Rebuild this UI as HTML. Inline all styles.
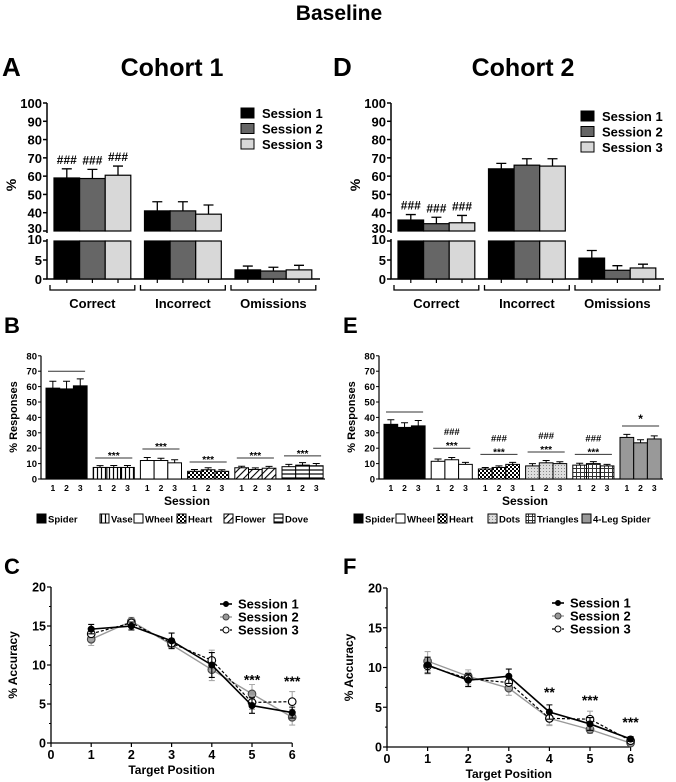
<!DOCTYPE html>
<html><head><meta charset="utf-8"><style>
html,body{margin:0;padding:0;background:#fff;}
svg{display:block;font-family:"Liberation Sans",Arial,sans-serif;}
text{font-weight:bold;fill:#000;}
</style></head><body>
<svg id="fig" width="676" height="782" viewBox="0 0 676 782" xmlns="http://www.w3.org/2000/svg">
<defs>
<pattern id="pVase" width="4" height="4" patternUnits="userSpaceOnUse"><rect width="4" height="4" fill="#fff"/><line x1="1.5" y1="0" x2="1.5" y2="4" stroke="#000" stroke-width="1.2"/></pattern>
<pattern id="pHeart" width="4" height="4" patternUnits="userSpaceOnUse"><rect width="4" height="4" fill="#fff"/><rect width="2" height="2" fill="#000"/><rect x="2" y="2" width="2" height="2" fill="#000"/></pattern>
<pattern id="pFlower" width="5" height="5" patternUnits="userSpaceOnUse" patternTransform="rotate(45)"><rect width="5" height="5" fill="#fff"/><line x1="0" y1="0" x2="0" y2="5" stroke="#000" stroke-width="2.2"/></pattern>
<pattern id="pDove" width="4" height="4" patternUnits="userSpaceOnUse"><rect width="4" height="4" fill="#fff"/><line x1="0" y1="2" x2="4" y2="2" stroke="#000" stroke-width="1.2"/></pattern>
<pattern id="pDots" width="3" height="3" patternUnits="userSpaceOnUse"><rect width="3" height="3" fill="#ddd"/><rect width="1" height="1" fill="#888"/></pattern>
<pattern id="pTri" width="4" height="4" patternUnits="userSpaceOnUse"><rect width="4" height="4" fill="#fff"/><line x1="0" y1="0.5" x2="4" y2="0.5" stroke="#333" stroke-width="1"/><line x1="0.5" y1="0" x2="0.5" y2="4" stroke="#333" stroke-width="1"/></pattern>
</defs>
</svg>
<script>
// ---------- Data ----------
const sessions = ['Session 1','Session 2','Session 3'];
const outcomeCats = ['Correct','Incorrect','Omissions'];
const aValues = [[59,58.7,60.5],[41,41,39.2],[2.4,2.1,2.4]];
const aErrors = [[5,5,5],[5,5,5],[1,1,1.2]];
const dValues = [[36,34,34.5],[64,66,65.5],[5.5,2.3,2.9]];
const dErrors = [[3,3.5,4],[3,3.5,4],[2,1.2,1]];
const axisTicksUpper = [30,40,50,60,70,80,90,100];
const axisTicksLower = [0,5,10];

const bStimuli = ['Spider','Vase','Wheel','Heart','Flower','Dove'];
const bValues = [[59,58.5,60.5],[7.5,7.5,7.5],[12,12,10.5],[5,6,5],[7.3,6.2,7],[8,9,8.6]];
const bErrors = [[4.5,5,4.5],[1.2,1.3,1.3],[2,1.5,2],[1.2,1.3,1],[1,1,1.2],[1.5,1.6,1.5]];
const bSigLine = [70,13.6,19.5,11,13.6,15];
const bSigLabel = ['','***','***','***','***','***'];
const eStimuli = ['Spider','Wheel','Heart','Dots','Triangles','4-Leg Spider'];
const eValues = [[35.5,33.5,34.5],[11.5,12.5,9.5],[6.5,7.5,9.5],[8.5,10.5,10],[9,10,8.5],[27,23.5,26]];
const eErrors = [[3,3,3.5],[1.5,1.5,1.3],[1,1,1.3],[1.5,1.5,1.2],[1.2,1.3,1],[2,2,2]];
const eSigLine = [43.5,20,16,17.5,16,34.4];
const eSigLabel = ['','***','***','***','***','*'];
const eHashLabel = ['','###','###','###','###',''];
const respTicks = [0,10,20,30,40,50,60,70,80];

const positions = [1,2,3,4,5,6];
const cS1 = [14.6,15.0,13.1,10.0,4.8,3.9];
const cS2 = [13.3,15.6,12.6,9.4,6.3,3.3];
const cS3 = [14.0,15.4,12.8,10.6,5.2,5.3];
const cE1 = [0.6,0.5,1.0,1.6,1.0,0.7];
const cE2 = [0.8,0.5,0.5,1.4,1.2,1.0];
const cE3 = [0.8,0.5,0.6,1.3,0.9,1.3];
const cStars = [['',0],['',0],['',0],['',0],['***',8],['***',7.8]];
const fS1 = [10.3,8.4,8.9,4.4,2.9,1.0];
const fS2 = [10.8,8.9,7.4,3.6,2.2,0.5];
const fS3 = [10.2,8.6,8.1,3.6,3.5,0.8];
const fE1 = [1.0,0.8,0.9,0.9,0.8,0.3];
const fE2 = [1.2,0.8,0.9,0.9,0.5,0.2];
const fE3 = [1.0,0.8,0.7,0.8,1.0,0.3];
const fStars = [['',0],['',0],['',0],['**',6.8],['***',5.8],['***',3]];
const accTicks = [0,5,10,15,20];
const posTicks = [0,1,2,3,4,5,6];

// ---------- helpers ----------
const NS='http://www.w3.org/2000/svg';
const svg=document.getElementById('fig');
function mk(tag,attrs,parent){const e=document.createElementNS(NS,tag);for(const k in attrs)e.setAttribute(k,attrs[k]);(parent||svg).appendChild(e);return e;}
function tx(str,x,y,size,anchor,parent){const e=mk('text',{x:x,y:y,'font-size':size,'text-anchor':anchor||'middle'},parent);e.textContent=str;return e;}

let t;
t=tx('Baseline',339,20,21);



const sessFill=['#000','#666','#d8d8d8'];

// ---------- Panels A / D ----------
function drawOutcome(cfg){
  const g=mk('g',{});
  
  
  const ax=cfg.ax;
  function y(v){return v>=30?231-(v-30)*128/70:279-v*3.8;}
  let e=tx(cfg.letter,cfg.letterX,76,26,'start',g);
  
  
  e=tx(cfg.title,cfg.titleX,76,25,'middle',g);
  
  
  e=mk('path',{d:`M${ax},103V233M${ax},239V279H${ax+273}`,stroke:'#000','stroke-width':1.5,fill:'none'},g);
  
  
  axisTicksUpper.forEach(v=>{
    const l=mk('line',{x1:ax-4,x2:ax,y1:y(v),y2:y(v),stroke:'#000','stroke-width':1.5},g);
    
    
    const tt=tx(String(v),ax-5,y(v)+(v===30?2:5),13,'end',g);
    
    
  });
  axisTicksLower.forEach(v=>{
    const l=mk('line',{x1:ax-4,x2:ax,y1:y(v),y2:y(v),stroke:'#000','stroke-width':1.5},g);
    
    
    const tt=tx(String(v),ax-5,y(v)+(v===10?3:5),13,'end',g);
    
    
  });
  e=tx('%',cfg.ax-31,185,14,'middle',g);
  e.setAttribute('transform',`rotate(-90 ${cfg.ax-31} 185)`);
  
  
  const bw=25.6;
  cfg.values.forEach((grp,gi)=>{
    const gx=ax+7+gi*90.5;
    grp.forEach((v,si)=>{
      const x=gx+si*bw, cx=x+bw/2;
      const top=y(v), errTop=y(v+cfg.errors[gi][si]);
      const lower=mk('rect',{x:x,y:v>10?241:top,width:bw,height:v>10?38:279-top,fill:sessFill[si],stroke:'#000','stroke-width':1.2},g);
      
      
      if(v>10){
        const up=mk('rect',{x:x,y:top,width:bw,height:231-top,fill:sessFill[si],stroke:'#000','stroke-width':1.2},g);
        
        
      }
      const eb=mk('path',{d:`M${cx},${top}V${errTop}M${cx-5},${errTop}H${cx+5}`,stroke:'#000','stroke-width':1.3,fill:'none'},g);
      
      
      const tk=mk('line',{x1:cx,x2:cx,y1:279,y2:283,stroke:'#000','stroke-width':1.2},g);
      
      
      if(gi===0){
        const h=tx('###',cx,errTop-5,12,'middle',g);
        
        
      }
    });
    const br=mk('path',{d:`M${gx-4},285V290H${gx+3*bw+4}V285`,stroke:'#000','stroke-width':1.3,fill:'none'},g);
    
    
    const gl=tx(outcomeCats[gi],gx+1.5*bw,308,13,'middle',g);
    
    
  });
  sessions.forEach((s,i)=>{
    const ly=cfg.legY+i*15.5;
    const r=mk('rect',{x:cfg.legX,y:ly-5,width:13,height:10,fill:sessFill[i],stroke:'#000','stroke-width':1},g);
    
    
    const lt=tx(s,cfg.legX+21,ly+5,13,'start',g);
    
    
  });
}
drawOutcome({name:'panel-a',letter:'A',letterX:2,title:'Cohort 1',titleX:172,ax:47,values:aValues,errors:aErrors,legX:241,legY:113});
drawOutcome({name:'panel-d',letter:'D',letterX:333,title:'Cohort 2',titleX:523,ax:391,values:dValues,errors:dErrors,legX:581,legY:116});

// ---------- Panels B / E ----------
function drawResp(cfg){
  const g=mk('g',{});
  
  
  const ax=cfg.ax;
  function y(v){return 479-v*1.54;}
  let e=tx(cfg.letter,cfg.letterX,333,22,'start',g);
  
  
  e=mk('path',{d:`M${ax},${y(80)}V479H${ax+284}`,stroke:'#000','stroke-width':1.2,fill:'none'},g);
  
  
  respTicks.forEach(v=>{
    const l=mk('line',{x1:ax-3,x2:ax,y1:y(v),y2:y(v),stroke:'#000','stroke-width':1},g);
    
    
    const tt=tx(String(v),ax-4,y(v)+3.5,9.5,'end',g);
    
    
  });
  e=tx('% Responses',ax-24,417,11,'middle',g);
  e.setAttribute('transform',`rotate(-90 ${ax-24} 417)`);
  
  
  e=tx('Session',ax+146,505,12,'middle',g);
  
  
  const bw=13.7;
  cfg.values.forEach((grp,gi)=>{
    const gx=ax+5+gi*47.2;
    grp.forEach((v,si)=>{
      const x=gx+si*bw,cx=x+bw/2,top=y(v),et=y(v+cfg.errors[gi][si]);
      const r=mk('rect',{x:x,y:top,width:bw,height:479-top,fill:cfg.fills[gi],stroke:'#000','stroke-width':1},g);
      
      
      const eb=mk('path',{d:`M${cx},${top}V${et}M${cx-3.5},${et}H${cx+3.5}`,stroke:'#000','stroke-width':1,fill:'none'},g);
      
      
      const sl=tx(String(si+1),cx,491,8.5,'middle',g);
      
      
    });
    const ly=y(cfg.sig[gi]);
    const sl=mk('line',{x1:gx+2,x2:gx+3*bw-2,y1:ly,y2:ly,stroke:'#333','stroke-width':1},g);
    
    
    if(cfg.sigLab[gi]){
      const s=tx(cfg.sigLab[gi],gx+1.5*bw,ly-3+(cfg.sigLab[gi]==='*'?0:4),cfg.sigLab[gi]==='*'?12:10,'middle',g);
      
      
    }
    if(cfg.hash&&cfg.hash[gi]){
      const h=tx(cfg.hash[gi],gx+1.5*bw,ly-13,9.5,'middle',g);
      
      
    }
  });
  cfg.stim.forEach((s,i)=>{
    const lx=cfg.legXs[i];
    const r=mk('rect',{x:lx,y:514,width:9,height:9,fill:cfg.fills[i],stroke:'#000','stroke-width':1},g);
    
    
    const lt=tx(s,lx+11,522.5,9.5,'start',g);
    
    
  });
}
drawResp({name:'panel-b',letter:'B',letterX:4,ax:41,values:bValues,errors:bErrors,stim:bStimuli,sig:bSigLine,sigLab:bSigLabel,
  fills:['#000','url(#pVase)','#fff','url(#pHeart)','url(#pFlower)','url(#pDove)'],legXs:[37,100,134,177,224,274]});
drawResp({name:'panel-e',letter:'E',letterX:343,ax:379,values:eValues,errors:eErrors,stim:eStimuli,sig:eSigLine,sigLab:eSigLabel,hash:eHashLabel,
  fills:['#000','#fff','url(#pHeart)','url(#pDots)','url(#pTri)','#999'],legXs:[354,396,438,488,526,582]});

// ---------- Panels C / F ----------
function drawLines(cfg){
  const g=mk('g',{});
  
  
  const ax=cfg.ax;
  const x=v=>ax+v*cfg.xs, y=v=>cfg.y0-v*cfg.ys;
  let e=tx(cfg.letter,cfg.letterX,574,22,'start',g);
  
  
  e=mk('path',{d:`M${ax},${y(20)}V${cfg.y0}H${x(6)}`,stroke:'#000','stroke-width':1.3,fill:'none'},g);
  
  
  accTicks.forEach(v=>{
    const l=mk('line',{x1:ax-4,x2:ax,y1:y(v),y2:y(v),stroke:'#000','stroke-width':1.2},g);
    
    
    const tt=tx(String(v),ax-5,y(v)+4.5,12.5,'end',g);
    
    
  });
  [2.5,7.5,12.5,17.5].forEach(v=>{
    const l=mk('line',{x1:ax-2,x2:ax,y1:y(v),y2:y(v),stroke:'#000','stroke-width':1},g);
    
    
  });
  posTicks.forEach(v=>{
    const l=mk('line',{x1:x(v),x2:x(v),y1:cfg.y0,y2:cfg.y0+4,stroke:'#000','stroke-width':1.2},g);
    
    
    const tt=tx(String(v),x(v),cfg.y0+16,12.5,'middle',g);
    
    
  });
  e=tx('% Accuracy',ax-34,y(10),12,'middle',g);
  e.setAttribute('transform',`rotate(-90 ${ax-34} ${y(10)})`);
  
  
  e=tx('Target Position',x(3),cfg.y0+31,12,'middle',g);
  
  
  const styles=[{c:'#000',f:'#000',d:'',w:1.6},{c:'#999',f:'#999',d:'',w:1.4},{c:'#000',f:'#fff',d:'3,2',w:1.2}];
  const ord=[1,2,0];
  ord.forEach(si=>{
    const vals=cfg.series[si],errs=cfg.errs[si],st=styles[si];
    vals.forEach((v,i)=>{
      const px=x(positions[i]);
      const eb=mk('path',{d:`M${px},${y(v-errs[i])}V${y(v+errs[i])}M${px-3},${y(v-errs[i])}H${px+3}M${px-3},${y(v+errs[i])}H${px+3}`,stroke:si===0?'#000':'#aaa','stroke-width':1.1,fill:'none'},g);
      
      
    });
    const ln=mk('polyline',{points:vals.map((v,i)=>x(positions[i])+','+y(v)).join(' '),fill:'none',stroke:st.c,'stroke-width':st.w,'stroke-dasharray':st.d},g);
    
    
    vals.forEach((v,i)=>{
      const p=mk('circle',{cx:x(positions[i]),cy:y(v),r:si===0?3:3.8,fill:st.f,stroke:si===1?'#444':'#000','stroke-width':1.1},g);
      
      
    });
  });
  cfg.stars.forEach((s,i)=>{
    if(!s[0])return;
    const st=tx(s[0],x(positions[i]),y(s[1])+4,14,'middle',g);
    
    
  });
  sessions.forEach((s,i)=>{
    const ly=cfg.legY+i*13;
    const st=styles[i];
    const l=mk('line',{x1:cfg.legX,x2:cfg.legX+12,y1:ly,y2:ly,stroke:st.c,'stroke-width':st.w,'stroke-dasharray':st.d},g);
    
    
    const c=mk('circle',{cx:cfg.legX+6,cy:ly,r:i===0?2.5:3,fill:st.f,stroke:i===1?'#444':'#000','stroke-width':1},g);
    
    
    const lt=tx(s,cfg.legX+18,ly+4.5,13,'start',g);
    
    
  });
}
drawLines({name:'panel-c',letter:'C',letterX:4,ax:51,xs:40.2,y0:743,ys:7.8,series:[cS1,cS2,cS3],errs:[cE1,cE2,cE3],stars:cStars,legX:220,legY:604});
drawLines({name:'panel-f',letter:'F',letterX:343,ax:387,xs:40.6,y0:747,ys:7.95,series:[fS1,fS2,fS3],errs:[fE1,fE2,fE3],stars:fStars,legX:552,legY:603});
</script>
</body></html>
